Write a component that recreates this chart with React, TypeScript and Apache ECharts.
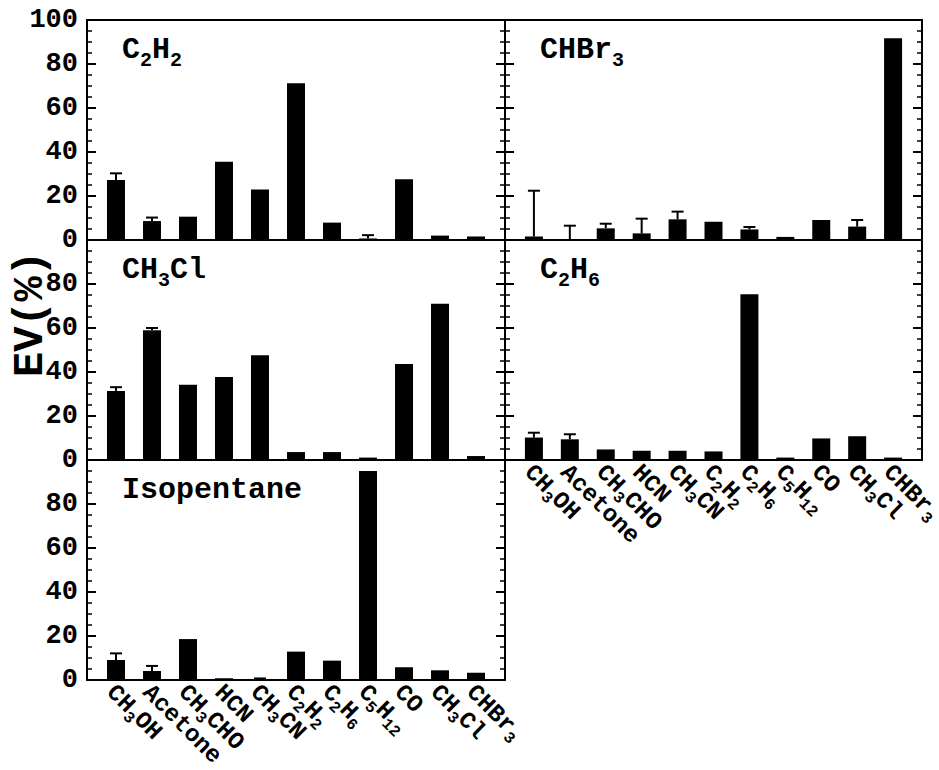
import React, { useEffect, useRef } from "react";
import * as echarts from "echarts";

const categories = ["CH3OH", "Acetone", "CH3CHO", "HCN", "CH3CN", "C2H2", "C2H6", "C5H12", "CO", "CH3Cl", "CHBr3"];

const panelNames = ["C2H2", "CHBr3", "CH3Cl", "C2H6", "Isopentane"];

const c2h2Vals = [27.3, 8.6, 10.6, 35.6, 23, 71.2, 7.9, 0.7, 27.6, 2, 1.6];
const c2h2Err = [3, 1.6, 0, 0, 0, 0, 0, 1.5, 0, 0, 0];

const chbr3Vals = [1.6, 0.2, 5.3, 3, 9.4, 8.3, 4.8, 1.4, 9.1, 6.1, 91.7];
const chbr3Err = [20.8, 6.3, 2.1, 6.7, 3.5, 0, 1.1, 0, 0, 3, 0];

const ch3clVals = [31.4, 59, 34.2, 37.7, 47.6, 3.6, 3.6, 1.1, 43.6, 71, 1.8];
const ch3clErr = [1.7, 1, 0, 0, 0, 0, 0, 0, 0, 0, 0];

const c2h6Vals = [10.2, 9.4, 4.8, 4.2, 4.2, 3.9, 75.3, 1.1, 9.8, 10.8, 1.1];
const c2h6Err = [2.2, 2.3, 0, 0, 0, 0, 0, 0, 0, 0, 0];

const isoVals = [9.1, 4.1, 18.6, 0.8, 0.3, 12.9, 8.8, 95, 5.8, 4.4, 3.3];
const isoErr = [3, 2.3, 0, 0, 0.4, 0, 0, 0, 0, 0, 0];

const yTicks = { min: 0, max: 100, interval: 20 };

const FONT = '"Liberation Mono", "Courier New", monospace';

function toRich(name: string): string {
  return name.replace(/([^0-9]+)|([0-9]+)/g, (_m, letters, digits) =>
    letters ? `{a|${letters}}` : `{s|${digits}}`
  );
}

function buildOption() {
  const vals = [c2h2Vals, chbr3Vals, ch3clVals, c2h6Vals, isoVals];
  const errs = [c2h2Err, chbr3Err, ch3clErr, c2h6Err, isoErr];
  const lefts = [87, 505, 87, 505, 87];
  const tops = [20, 20, 240, 240, 460];
  const widths = [418, 417, 418, 417, 418];
  const H = 220;
  const XMIN = -0.805;
  const XMAX = 10.805;
  const SPAN = XMAX - XMIN;

  const grid: any[] = [];
  const xAxis: any[] = [];
  const yAxis: any[] = [];
  const series: any[] = [];
  const title: any[] = [];

  const labelRich = {
    a: { fontFamily: FONT, fontWeight: "bold", fontSize: 24, lineHeight: 24, padding: [8, 0, 0, 0], verticalAlign: "top", color: "#000" },
    s: { fontFamily: FONT, fontWeight: "bold", fontSize: 16, lineHeight: 12, padding: [20, 0, 0, 0], verticalAlign: "top", color: "#000" },
  };
  const titleRich = {
    a: { fontFamily: FONT, fontWeight: "bold", fontSize: 30, lineHeight: 30, verticalAlign: "top", color: "#000" },
    s: { fontFamily: FONT, fontWeight: "bold", fontSize: 20, lineHeight: 20, padding: [15, 0, 0, 0], verticalAlign: "top", color: "#000" },
  };

  for (let k = 0; k < 5; k++) {
    const isLeftCol = lefts[k] === 87;
    grid.push({ left: lefts[k], top: tops[k], width: widths[k], height: H, outerBoundsMode: "none", containLabel: false });

    xAxis.push({
      type: "value",
      gridIndex: k,
      min: XMIN,
      max: XMAX,
      position: "bottom",
      axisLine: { show: true, onZero: false, lineStyle: { color: "#000", width: 2 } },
      axisTick: { show: false },
      splitLine: { show: false },
      axisLabel: { show: false },
    });
    xAxis.push({
      type: "value",
      gridIndex: k,
      min: XMIN,
      max: XMAX,
      position: "top",
      axisLine: { show: k < 2, onZero: false, lineStyle: { color: "#000", width: 2 } },
      axisTick: { show: false },
      axisLabel: { show: false },
      splitLine: { show: false },
    });

    const yBase = {
      type: "value",
      gridIndex: k,
      min: yTicks.min,
      max: yTicks.max,
      interval: yTicks.interval,
      axisLine: { show: true, onZero: false, lineStyle: { color: "#000", width: 2 } },
      axisTick: { show: true, inside: true, length: 9, lineStyle: { color: "#000", width: 2 } },
      minorTick: { show: true, splitNumber: 4, length: 5, lineStyle: { color: "#000", width: 1.5 } },
      splitLine: { show: false },
      minorSplitLine: { show: false },
    };
    yAxis.push({
      ...yBase,
      position: "left",
      axisLabel: {
        show: isLeftCol,
        showMaxLabel: k === 0,
        showMinLabel: true,
        fontFamily: FONT,
        fontWeight: "bold",
        fontSize: 27,
        color: "#000",
        margin: 9,
      },
    });
    yAxis.push({
      ...yBase,
      position: "right",
      axisLabel: { show: false },
    });

    series.push({
      type: "bar",
      xAxisIndex: 2 * k,
      yAxisIndex: 2 * k,
      barWidth: 18,
      itemStyle: { color: "#000" },
      data: vals[k].map((v, i) => [i, v]),
      silent: true,
    });
    series.push({
      type: "custom",
      xAxisIndex: 2 * k,
      yAxisIndex: 2 * k,
      silent: true,
      z: 5,
      data: vals[k].map((v, i) => [i, v, errs[k][i]]).filter((d) => d[2] > 0),
      renderItem: (_p: any, api: any) => {
        const x = api.value(0);
        const v = api.value(1);
        const e = api.value(2);
        const p0 = api.coord([x, v]);
        const p1 = api.coord([x, v + e]);
        return {
          type: "group",
          children: [
            { type: "line", shape: { x1: p0[0], y1: p0[1], x2: p1[0], y2: p1[1] }, style: { stroke: "#000", lineWidth: 2 } },
            { type: "line", shape: { x1: p1[0] - 6, y1: p1[1], x2: p1[0] + 6, y2: p1[1] }, style: { stroke: "#000", lineWidth: 2 } },
          ],
        };
      },
    });

    title.push({
      text: toRich(panelNames[k]),
      left: lefts[k] + 35,
      top: tops[k] + 15,
      padding: 0,
      textStyle: { rich: titleRich },
    });
  }

  // label-only category axes, aligned with the bar slots of panels 3 and 4
  [3, 4].forEach((k, j) => {
    const unit = widths[k] / SPAN;
    const bandLeft = lefts[k] + (-XMIN - 0.5) * unit;
    const gi = 5 + j;
    grid.push({ left: bandLeft, top: tops[k], width: unit * 11, height: H, outerBoundsMode: "none", containLabel: false });
    xAxis.push({
      type: "category",
      gridIndex: gi,
      data: categories,
      position: "bottom",
      boundaryGap: true,
      axisLine: { show: false },
      axisTick: { show: false },
      splitLine: { show: false },
      axisLabel: {
        show: true,
        interval: 0,
        rotate: -45,
        margin: 3,
        formatter: (v: string) => toRich(v),
        rich: labelRich,
      },
    });
    yAxis.push({ type: "value", gridIndex: gi, min: 0, max: 100, show: false });
  });

  return {
    animation: false,
    backgroundColor: "#fff",
    title,
    grid,
    xAxis,
    yAxis,
    series,
    graphic: [
      {
        type: "text",
        x: 31,
        y: 314,
        rotation: Math.PI / 2,
        style: {
          text: "EV(%)",
          fontFamily: FONT,
          fontWeight: "bold",
          fontSize: 42,
          fill: "#000",
          align: "center",
          verticalAlign: "middle",
        },
      },
    ],
  };
}

export default function App() {
  const ref = useRef<HTMLDivElement>(null);
  useEffect(() => {
    const chart = echarts.init(ref.current!, null, { renderer: "svg" });
    chart.setOption(buildOption() as any);
    return () => chart.dispose();
  }, []);
  return (
    <div
      ref={ref}
      style={{ position: "fixed", left: 0, top: 0, width: 939, height: 770, background: "#fff" }}
    />
  );
}
